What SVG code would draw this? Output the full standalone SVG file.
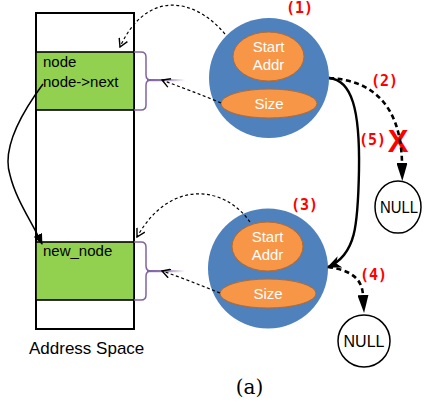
<svg xmlns="http://www.w3.org/2000/svg" width="425" height="402" viewBox="0 0 425 402">
  <style>
    .sans { font-family: "Liberation Sans", Arial, sans-serif; }
    .mem { fill: none; stroke: #000; stroke-width: 2; }
    .blk { fill: #92d050; stroke: #000; stroke-width: 1.6; }
    .blktxt { font-family: "Liberation Sans", Arial, sans-serif; font-size: 15px; fill: #000; }
    .brace { fill: none; stroke: #8064a2; stroke-width: 1.5; }
    .ball { fill: #4f81bd; }
    .field { fill: #f79646; stroke: #b8692a; stroke-width: 1; }
    .ftxt { font-family: "Liberation Sans", Arial, sans-serif; font-size: 15px; fill: #fff; text-anchor: middle; }
    .null { fill: #fff; stroke: #000; stroke-width: 1.5; }
    .ntxt { font-family: "Liberation Sans", Arial, sans-serif; font-size: 16px; fill: #000; text-anchor: middle; }
    .step { font-family: "DejaVu Sans Mono", monospace; font-weight: bold; font-size: 15px; fill: #ff0000; }
    .dot { fill: none; stroke: #000; stroke-width: 1.2; stroke-dasharray: 3 2.5; }
    .thick { fill: none; stroke: #000; stroke-width: 2.4; }
    .thickdash { fill: none; stroke: #000; stroke-width: 2.6; stroke-dasharray: 5 3.5; }
    .thin { fill: none; stroke: #000; stroke-width: 1.5; }
  </style>
  <defs>
    <marker id="tri" viewBox="0 0 18 11" refX="0" refY="5.5" markerWidth="18" markerHeight="11" markerUnits="userSpaceOnUse" orient="auto">
      <path d="M0,0 L18,5.5 L0,11 z" fill="#000"/>
    </marker>
    <marker id="stealth" viewBox="0 0 14 12" refX="13" refY="6" markerWidth="14" markerHeight="12" markerUnits="userSpaceOnUse" orient="auto">
      <path d="M0,0 L14,6 L0,12 L4,6 z" fill="#000"/>
    </marker>
    <marker id="small" viewBox="0 0 11 9" refX="10" refY="4.5" markerWidth="11" markerHeight="9" markerUnits="userSpaceOnUse" orient="auto">
      <path d="M0,0 L11,4.5 L0,9 z" fill="#000"/>
    </marker>
    <marker id="open" viewBox="0 0 10 10" refX="9" refY="5" markerWidth="10" markerHeight="10" markerUnits="userSpaceOnUse" orient="auto">
      <path d="M1,0.5 L9,5 L1,9.5" fill="none" stroke="#000" stroke-width="1.4"/>
    </marker>
    <linearGradient id="tail" x1="0" y1="0" x2="1" y2="0">
      <stop offset="0" stop-color="#8064a2" stop-opacity="1"/>
      <stop offset="0.4" stop-color="#8064a2" stop-opacity="0.9"/>
      <stop offset="1" stop-color="#8064a2" stop-opacity="0"/>
    </linearGradient>
  </defs>

  <!-- address space column -->
  <g id="address-space">
    <rect class="mem" x="36" y="13" width="98" height="316"/>
    <text class="sans" x="29" y="354" font-size="17">Address Space</text>
  </g>

  <g id="node-block">
    <rect class="blk" x="36" y="52" width="98" height="58"/>
    <text class="blktxt" x="43" y="67">node</text>
    <text class="blktxt" x="43" y="87">node-&gt;next</text>
    <path class="brace" d="M134,52 L141,52 Q146,52 146,57 L146,75 Q146,80 151,80 Q146,80 146,85 L146,105 Q146,110 141,110 L134,110"/>
    <rect x="147" y="79" width="38" height="2.2" fill="url(#tail)"/>
  </g>

  <g id="new-node-block">
    <rect class="blk" x="36" y="242" width="98" height="58"/>
    <text class="blktxt" x="43" y="256">new_node</text>
    <path class="brace" d="M134,242 L141,242 Q146,242 146,247 L146,266 Q146,271 151,271 Q146,271 146,276 L146,295 Q146,300 141,300 L134,300"/>
    <rect x="147" y="270" width="38" height="2.2" fill="url(#tail)"/>
  </g>

  <!-- descriptor objects -->
  <g id="desc-1">
    <circle class="ball" cx="269" cy="78" r="60"/>
    <ellipse class="field" cx="268.5" cy="56.5" rx="35.5" ry="24.5"/>
    <text class="ftxt" x="268.5" y="52">Start</text>
    <text class="ftxt" x="268.5" y="70">Addr</text>
    <ellipse class="field" cx="269" cy="103.5" rx="48" ry="14.5"/>
    <text class="ftxt" x="269" y="109">Size</text>
  </g>

  <g id="desc-2">
    <circle class="ball" cx="268" cy="268.5" r="60"/>
    <ellipse class="field" cx="267.5" cy="246.5" rx="35.5" ry="24.5"/>
    <text class="ftxt" x="267.5" y="242">Start</text>
    <text class="ftxt" x="267.5" y="260">Addr</text>
    <ellipse class="field" cx="268" cy="293.5" rx="48" ry="14.5"/>
    <text class="ftxt" x="268" y="299">Size</text>
  </g>

  <g id="null-1">
    <ellipse class="null" cx="398" cy="207" rx="23" ry="26"/>
    <text class="ntxt" x="399" y="213" textLength="38" lengthAdjust="spacingAndGlyphs">NULL</text>
  </g>

  <g id="null-2">
    <circle class="null" cx="364" cy="341" r="26"/>
    <text class="ntxt" x="364" y="347">NULL</text>
  </g>

  <!-- step labels -->
  <g id="labels">
    <text class="step" x="286" y="13">(1)</text>
    <text class="step" x="371" y="86">(2)</text>
    <text class="step" x="291" y="210">(3)</text>
    <text class="step" x="360" y="280">(4)</text>
    <text class="step" x="359" y="145">(5)</text>
    <text x="398" y="152" text-anchor="middle" font-family="Liberation Sans, Arial, sans-serif" font-weight="bold" font-size="31" fill="#ff0000">X</text>
    <text x="249.5" y="394" text-anchor="middle" font-family="DejaVu Serif, serif" font-size="20" fill="#000">(a)</text>
  </g>

  <!-- connectors -->
  <g id="connectors">
    <path class="dot" d="M225,34 C192,-5 145,-8 120,47" marker-end="url(#open)"/>
    <path class="dot" d="M221,103 C200,94 180,87 162,80" marker-end="url(#open)"/>
    <path class="dot" d="M250,222 C225,186 170,178 137,237" marker-end="url(#open)"/>
    <path class="dot" d="M220,293 C200,285 180,277 162,271" marker-end="url(#open)"/>
    <path class="thin" d="M43,84 C20,115 2,150 10,175 C16,200 32,222 42,244" marker-end="url(#small)"/>
    <path class="thickdash" d="M329,78 C372,80 401,105 402,163" marker-end="url(#tri)"/>
    <path class="thick" d="M329,78 C352,80 360,110 359,170 C358,225 356,255 328,267" marker-end="url(#stealth)"/>
    <path class="thickdash" d="M328,267 C350,270 362,278 363,295" marker-end="url(#tri)"/>
  </g>
</svg>
